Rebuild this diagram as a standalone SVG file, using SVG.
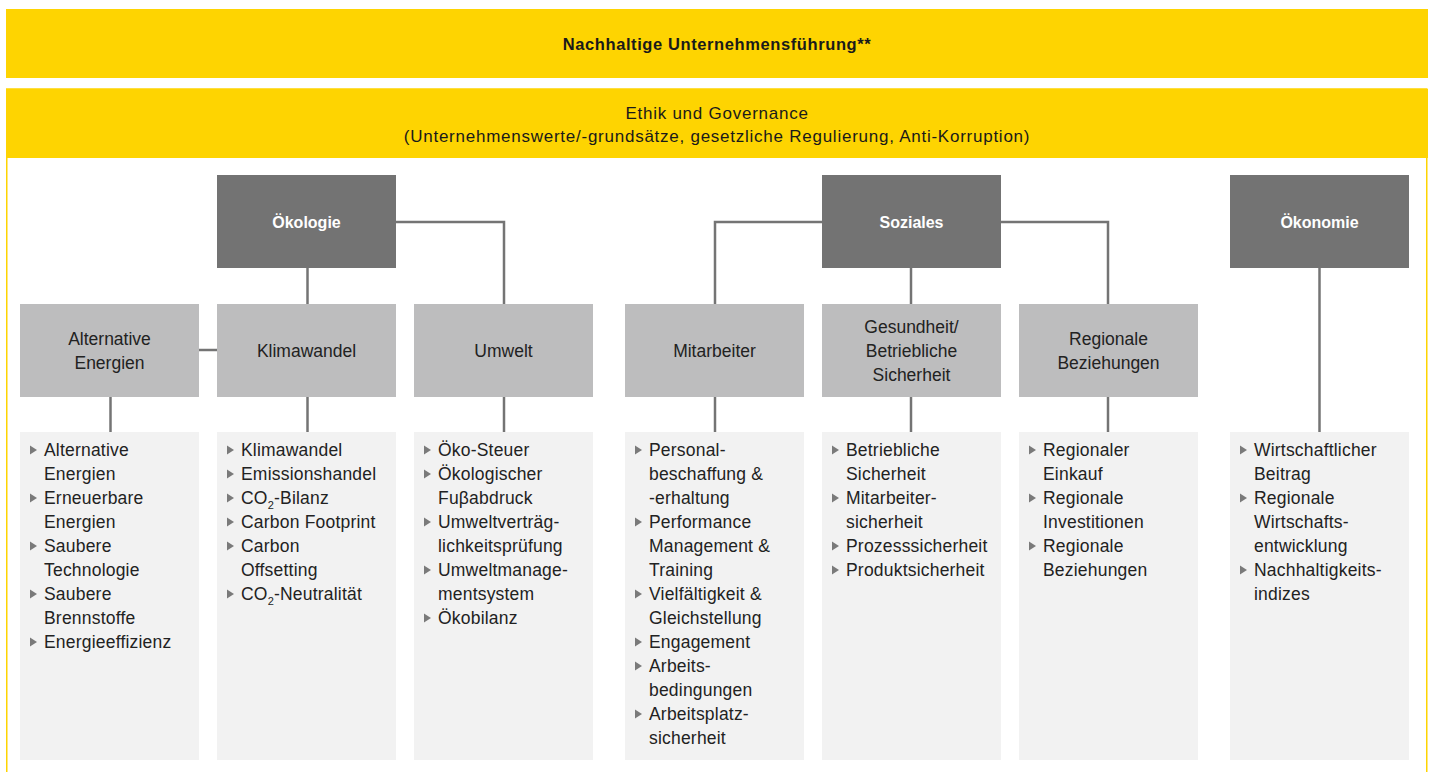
<svg xmlns="http://www.w3.org/2000/svg" width="1435" height="772" viewBox="0 0 1435 772">
<defs>
<style>
.yel{fill:#FED401}
.dark{fill:#737373}
.mid{fill:#BDBDBE}
.det{fill:#F2F2F2}
.conn{stroke:#747474;stroke-width:2.5;fill:none}
.t{font-family:"Liberation Sans",Arial,sans-serif;fill:#1a1a1a}
.hd{font-size:17px;text-anchor:middle;letter-spacing:0.75px}
.ttl{font-size:16.5px;font-weight:bold;text-anchor:middle;letter-spacing:0.6px}
.dl{font-size:16px;font-weight:bold;fill:#ffffff;text-anchor:middle}
.ml{font-size:17.5px;text-anchor:middle;fill:#222}
.it{font-size:17.5px;fill:#222;letter-spacing:0.2px}
.sub{font-size:11px}
.bul{fill:#7a7a7a}
</style>
<polygon id="b" points="0,-4.5 7,0 0,4.5"/>
</defs>
<rect x="0" y="0" width="1435" height="772" fill="#ffffff"/>
<g id="title">
<rect class="yel" x="6" y="9" width="1422" height="69"/>
<text class="t ttl" x="717" y="49.5">Nachhaltige Unternehmensführung**</text>
</g>
<g id="frame">
<rect x="6.75" y="89" width="1420" height="700" fill="none" stroke="#FED401" stroke-width="1.5"/>
<rect class="yel" x="6" y="89" width="1422" height="69"/>
<text class="t hd" x="717" y="119">Ethik und Governance</text>
<text class="t hd" x="717" y="142">(Unternehmenswerte/-grundsätze, gesetzliche Regulierung, Anti-Korruption)</text>
</g>
<g id="connectors">
<line class="conn" x1="307.5" y1="268" x2="307.5" y2="304"/>
<polyline class="conn" points="396,222 504,222 504,304"/>
<line class="conn" x1="199" y1="350" x2="217" y2="350"/>
<polyline class="conn" points="822,222 715,222 715,304"/>
<line class="conn" x1="911" y1="268" x2="911" y2="304"/>
<polyline class="conn" points="1000,222 1108,222 1108,304"/>
<line class="conn" x1="1319.5" y1="268" x2="1319.5" y2="432"/>
<line class="conn" x1="110.5" y1="397" x2="110.5" y2="432"/>
<line class="conn" x1="307.5" y1="397" x2="307.5" y2="432"/>
<line class="conn" x1="504" y1="397" x2="504" y2="432"/>
<line class="conn" x1="715" y1="397" x2="715" y2="432"/>
<line class="conn" x1="911" y1="397" x2="911" y2="432"/>
<line class="conn" x1="1108" y1="397" x2="1108" y2="432"/>
</g>
<g id="oekologie">
<rect class="dark" x="217" y="175" width="179" height="93"/>
<text class="t dl" x="306.5" y="228">Ökologie</text>
</g>
<g id="soziales">
<rect class="dark" x="822" y="175" width="179" height="93"/>
<text class="t dl" x="911.5" y="228">Soziales</text>
</g>
<g id="oekonomie">
<rect class="dark" x="1230" y="175" width="179" height="93"/>
<text class="t dl" x="1319.5" y="228">Ökonomie</text>
</g>
<g id="alt-energien">
<rect class="mid" x="20" y="304" width="179" height="93"/>
<text class="t ml" x="109.5" y="345">Alternative</text>
<text class="t ml" x="109.5" y="369">Energien</text>
</g>
<g id="klimawandel">
<rect class="mid" x="217" y="304" width="179" height="93"/>
<text class="t ml" x="306.5" y="357">Klimawandel</text>
</g>
<g id="umwelt">
<rect class="mid" x="414" y="304" width="179" height="93"/>
<text class="t ml" x="503.5" y="357">Umwelt</text>
</g>
<g id="mitarbeiter">
<rect class="mid" x="625" y="304" width="179" height="93"/>
<text class="t ml" x="714.5" y="357">Mitarbeiter</text>
</g>
<g id="gesundheit">
<rect class="mid" x="822" y="304" width="179" height="93"/>
<text class="t ml" x="911.5" y="333">Gesundheit/</text>
<text class="t ml" x="911.5" y="357">Betriebliche</text>
<text class="t ml" x="911.5" y="381">Sicherheit</text>
</g>
<g id="regionale">
<rect class="mid" x="1019" y="304" width="179" height="93"/>
<text class="t ml" x="1108.5" y="345">Regionale</text>
<text class="t ml" x="1108.5" y="369">Beziehungen</text>
</g>
<g id="det-alt">
<rect class="det" x="20" y="432" width="179" height="328"/>
<use href="#b" class="bul" x="30" y="450"/>
<use href="#b" class="bul" x="30" y="498"/>
<use href="#b" class="bul" x="30" y="546"/>
<use href="#b" class="bul" x="30" y="594"/>
<use href="#b" class="bul" x="30" y="642"/>
<text class="t it" x="44" y="456">Alternative</text>
<text class="t it" x="44" y="480">Energien</text>
<text class="t it" x="44" y="504">Erneuerbare</text>
<text class="t it" x="44" y="528">Energien</text>
<text class="t it" x="44" y="552">Saubere</text>
<text class="t it" x="44" y="576">Technologie</text>
<text class="t it" x="44" y="600">Saubere</text>
<text class="t it" x="44" y="624">Brennstoffe</text>
<text class="t it" x="44" y="648">Energieeffizienz</text>
</g>
<g id="det-klima">
<rect class="det" x="217" y="432" width="179" height="328"/>
<use href="#b" class="bul" x="227" y="450"/>
<use href="#b" class="bul" x="227" y="474"/>
<use href="#b" class="bul" x="227" y="498"/>
<use href="#b" class="bul" x="227" y="522"/>
<use href="#b" class="bul" x="227" y="546"/>
<use href="#b" class="bul" x="227" y="594"/>
<text class="t it" x="241" y="456">Klimawandel</text>
<text class="t it" x="241" y="480">Emissionshandel</text>
<text class="t it" x="241" y="504">CO<tspan class="sub" dy="5">2</tspan><tspan dy="-5">-Bilanz</tspan></text>
<text class="t it" x="241" y="528">Carbon Footprint</text>
<text class="t it" x="241" y="552">Carbon</text>
<text class="t it" x="241" y="576">Offsetting</text>
<text class="t it" x="241" y="600">CO<tspan class="sub" dy="5">2</tspan><tspan dy="-5">-Neutralität</tspan></text>
</g>
<g id="det-umwelt">
<rect class="det" x="414" y="432" width="179" height="328"/>
<use href="#b" class="bul" x="424" y="450"/>
<use href="#b" class="bul" x="424" y="474"/>
<use href="#b" class="bul" x="424" y="522"/>
<use href="#b" class="bul" x="424" y="570"/>
<use href="#b" class="bul" x="424" y="618"/>
<text class="t it" x="438" y="456">Öko-Steuer</text>
<text class="t it" x="438" y="480">Ökologischer</text>
<text class="t it" x="438" y="504">Fuβabdruck</text>
<text class="t it" x="438" y="528">Umweltverträg-</text>
<text class="t it" x="438" y="552">lichkeitsprüfung</text>
<text class="t it" x="438" y="576">Umweltmanage-</text>
<text class="t it" x="438" y="600">mentsystem</text>
<text class="t it" x="438" y="624">Ökobilanz</text>
</g>
<g id="det-mitarbeiter">
<rect class="det" x="625" y="432" width="179" height="328"/>
<use href="#b" class="bul" x="635" y="450"/>
<use href="#b" class="bul" x="635" y="522"/>
<use href="#b" class="bul" x="635" y="594"/>
<use href="#b" class="bul" x="635" y="642"/>
<use href="#b" class="bul" x="635" y="666"/>
<use href="#b" class="bul" x="635" y="714"/>
<text class="t it" x="649" y="456">Personal-</text>
<text class="t it" x="649" y="480">beschaffung &amp;</text>
<text class="t it" x="649" y="504">-erhaltung</text>
<text class="t it" x="649" y="528">Performance</text>
<text class="t it" x="649" y="552">Management &amp;</text>
<text class="t it" x="649" y="576">Training</text>
<text class="t it" x="649" y="600">Vielfältigkeit &amp;</text>
<text class="t it" x="649" y="624">Gleichstellung</text>
<text class="t it" x="649" y="648">Engagement</text>
<text class="t it" x="649" y="672">Arbeits-</text>
<text class="t it" x="649" y="696">bedingungen</text>
<text class="t it" x="649" y="720">Arbeitsplatz-</text>
<text class="t it" x="649" y="744">sicherheit</text>
</g>
<g id="det-gesundheit">
<rect class="det" x="822" y="432" width="179" height="328"/>
<use href="#b" class="bul" x="832" y="450"/>
<use href="#b" class="bul" x="832" y="498"/>
<use href="#b" class="bul" x="832" y="546"/>
<use href="#b" class="bul" x="832" y="570"/>
<text class="t it" x="846" y="456">Betriebliche</text>
<text class="t it" x="846" y="480">Sicherheit</text>
<text class="t it" x="846" y="504">Mitarbeiter-</text>
<text class="t it" x="846" y="528">sicherheit</text>
<text class="t it" x="846" y="552">Prozesssicherheit</text>
<text class="t it" x="846" y="576">Produktsicherheit</text>
</g>
<g id="det-regionale">
<rect class="det" x="1019" y="432" width="179" height="328"/>
<use href="#b" class="bul" x="1029" y="450"/>
<use href="#b" class="bul" x="1029" y="498"/>
<use href="#b" class="bul" x="1029" y="546"/>
<text class="t it" x="1043" y="456">Regionaler</text>
<text class="t it" x="1043" y="480">Einkauf</text>
<text class="t it" x="1043" y="504">Regionale</text>
<text class="t it" x="1043" y="528">Investitionen</text>
<text class="t it" x="1043" y="552">Regionale</text>
<text class="t it" x="1043" y="576">Beziehungen</text>
</g>
<g id="det-oekonomie">
<rect class="det" x="1230" y="432" width="179" height="328"/>
<use href="#b" class="bul" x="1240" y="450"/>
<use href="#b" class="bul" x="1240" y="498"/>
<use href="#b" class="bul" x="1240" y="570"/>
<text class="t it" x="1254" y="456">Wirtschaftlicher</text>
<text class="t it" x="1254" y="480">Beitrag</text>
<text class="t it" x="1254" y="504">Regionale</text>
<text class="t it" x="1254" y="528">Wirtschafts-</text>
<text class="t it" x="1254" y="552">entwicklung</text>
<text class="t it" x="1254" y="576">Nachhaltigkeits-</text>
<text class="t it" x="1254" y="600">indizes</text>
</g>
</svg>
